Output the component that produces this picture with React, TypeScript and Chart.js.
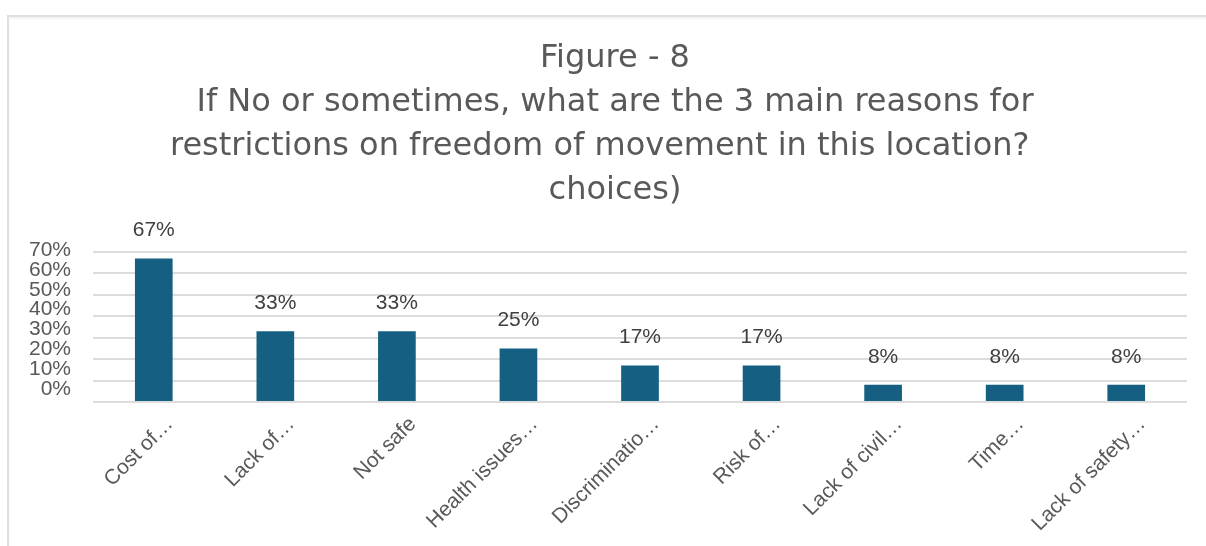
import React, { useEffect, useRef } from "react";
import { Chart, registerables } from "chart.js";

Chart.register(...registerables);

const categories = [
  "Cost of…",
  "Lack of…",
  "Not safe",
  "Health issues…",
  "Discriminatio…",
  "Risk of…",
  "Lack of civil…",
  "Time…",
  "Lack of safety…",
];
const values = [67, 33, 33, 25, 17, 17, 8, 8, 8];
const yTickValues = [0, 10, 20, 30, 40, 50, 60, 70];
const titleLines = [
  "Figure - 8",
  "If No or sometimes, what are the 3 main reasons for",
  "restrictions on freedom of movement in this location?   ",
  "choices)",
];

const BAR_COLOR = "#156082";
const TEXT_COLOR = "#595959";
const LABEL_COLOR = "#404040";
const GRID_COLOR = "#dcdcdc";

const dataLabelPlugin = {
  id: "dataLabels",
  afterDatasetsDraw(chart: any) {
    const ctx = chart.ctx;
    const meta = chart.getDatasetMeta(0);
    ctx.save();
    ctx.font = "21px 'Liberation Sans', Arial, sans-serif";
    ctx.fillStyle = LABEL_COLOR;
    ctx.textAlign = "center";
    ctx.textBaseline = "middle";
    meta.data.forEach((bar: any, i: number) => {
      ctx.fillText(`${values[i]}%`, bar.x, bar.y - 28);
    });
    ctx.restore();
  },
};

export default function App() {
  const canvasRef = useRef<HTMLCanvasElement | null>(null);

  useEffect(() => {
    document.body.style.margin = "0";
    const canvas = canvasRef.current;
    if (!canvas) return;
    const chart = new Chart(canvas, {
      type: "bar",
      data: {
        labels: categories,
        datasets: [
          {
            data: values,
            backgroundColor: BAR_COLOR,
            borderWidth: 0,
            categoryPercentage: 1,
            barPercentage: 0.31,
          },
        ],
      },
      options: {
        animation: false,
        responsive: false,
        maintainAspectRatio: false,
        layout: { padding: { left: 24, right: 0, top: 0, bottom: 0 } },
        plugins: {
          legend: { display: false },
          tooltip: { enabled: false },
          title: {
            display: true,
            text: titleLines,
            color: TEXT_COLOR,
            font: { family: "'DejaVu Sans', sans-serif", size: 32, weight: "normal", lineHeight: 1.375 },
            padding: { top: 37, bottom: 39 },
          },
        },
        scales: {
          x: {
            grid: { display: false, drawTicks: false },
            border: { display: false },
            ticks: {
              color: TEXT_COLOR,
              font: { family: "'Liberation Sans', Arial, sans-serif", size: 21 },
              minRotation: 45,
              maxRotation: 45,
              padding: 10,
              labelOffset: 16,
              autoSkip: false,
            },
            afterFit(scale: any) {
              scale.height = 144;
            },
          },
          y: {
            position: "left",
            min: 0,
            max: 70,
            grid: { color: GRID_COLOR, lineWidth: 2, drawTicks: false },
            border: { display: false },
            ticks: { display: false, stepSize: 10 },
            afterFit(scale: any) {
              scale.width = 0;
            },
          },
          yl: {
            position: "left",
            min: -6.5,
            max: 69,
            grid: { display: false, drawTicks: false },
            border: { display: false },
            ticks: {
              color: TEXT_COLOR,
              font: { family: "'Liberation Sans', Arial, sans-serif", size: 21 },
              padding: 22,
              autoSkip: false,
              callback: (v: any) => `${v}%`,
            },
            afterBuildTicks(scale: any) {
              scale.ticks = yTickValues.map((v) => ({ value: v }));
            },
            afterFit(scale: any) {
              scale.width = 69;
            },
          },
          yr: {
            position: "right",
            min: 0,
            max: 1,
            grid: { display: false, drawTicks: false },
            border: { display: false },
            ticks: { display: false },
            afterFit(scale: any) {
              scale.width = 19;
            },
          },
        },
      },
      plugins: [dataLabelPlugin],
    });
    return () => chart.destroy();
  }, []);

  return (
    <div style={{ position: "relative", width: 1206, height: 546, overflow: "hidden", background: "#fff" }}>
      <canvas ref={canvasRef} width={1206} height={546} style={{ display: "block", width: 1206, height: 546 }} />
      <div
        style={{
          position: "absolute",
          left: 7,
          top: 15,
          width: 1300,
          height: 600,
          borderTop: "2px solid #e0e0e0",
          borderLeft: "2px solid #e0e0e0",
          boxShadow: "inset 0 2px 2px #f4f4f4",
          pointerEvents: "none",
        }}
      />
    </div>
  );
}
